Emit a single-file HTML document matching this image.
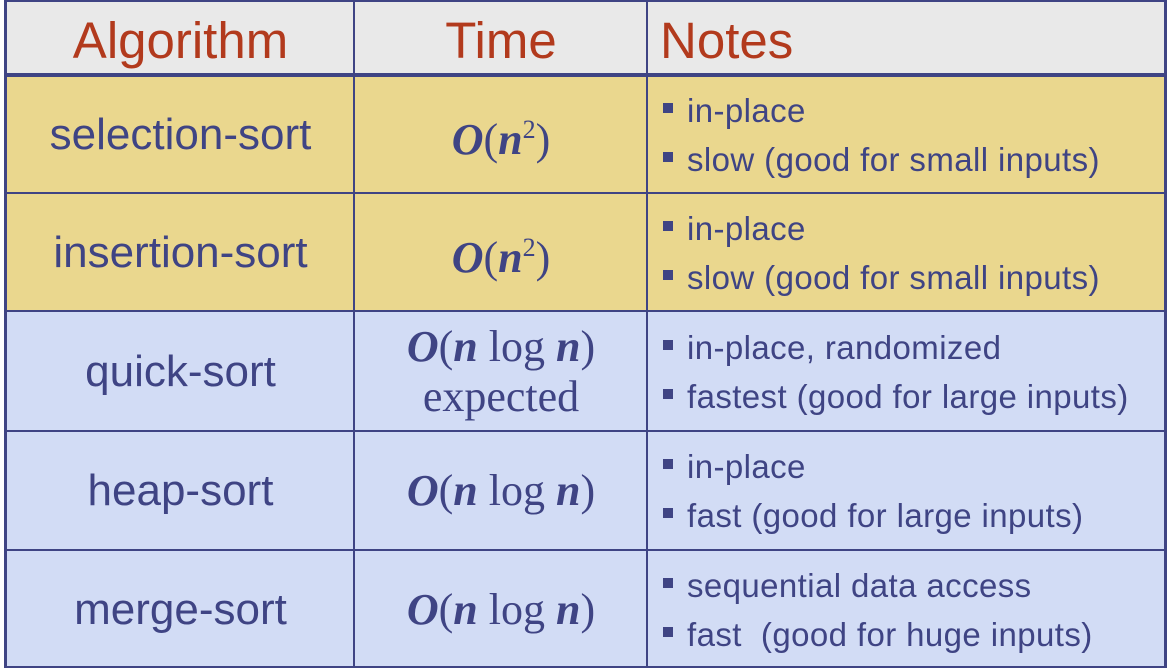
<!DOCTYPE html>
<html><head><style>
body{margin:0;width:1168px;height:668px;background:#fff;position:relative;overflow:hidden;font-family:"Liberation Sans",sans-serif}
.c{position:absolute;box-sizing:border-box;display:flex;align-items:center;justify-content:center;color:#3f4484;white-space:nowrap}
.h{background:#e9e9e9;color:#b23a1d;font-size:51px;padding-top:4px}
.y{background:#ead78e}.b{background:#d2dcf5}
.a{font-size:44px;letter-spacing:0}
.t{font-family:"Liberation Serif",serif;font-size:44px;text-align:center;line-height:50px;flex-direction:column}
.t i{font-weight:bold}
.t sup{font-size:26px;vertical-align:16px;font-weight:normal;font-style:normal}
.n{justify-content:center;padding-left:15px;font-size:33px;line-height:49px;flex-direction:column;align-items:flex-start;letter-spacing:0.4px}
.n div:before{content:"";display:inline-block;width:10px;height:10px;background:#3f4484;margin-right:14px;vertical-align:9px}
.hl{position:absolute;background:#3f4484}
</style></head><body>
<div class="c h" style="left:7px;top:2px;width:347px;height:72px">Algorithm</div>
<div class="c h" style="left:355px;top:2px;width:292px;height:72px">Time</div>
<div class="c h" style="left:648px;top:2px;width:516px;height:72px;justify-content:flex-start;padding-left:12px">Notes</div>

<div class="c y a" style="left:7px;top:77px;width:347px;height:116px">selection-sort</div>
<div class="c y t" style="left:355px;top:77px;width:292px;height:116px"><span><i>O</i>(<i>n</i><sup>2</sup>)</span></div>
<div class="c y n" style="left:648px;top:77px;width:516px;height:116px"><div>in-place</div><div>slow (good for small inputs)</div></div>

<div class="c y a" style="left:7px;top:194px;width:347px;height:117px">insertion-sort</div>
<div class="c y t" style="left:355px;top:194px;width:292px;height:117px"><span><i>O</i>(<i>n</i><sup>2</sup>)</span></div>
<div class="c y n" style="left:648px;top:194px;width:516px;height:117px"><div>in-place</div><div>slow (good for small inputs)</div></div>

<div class="c b a" style="left:7px;top:312px;width:347px;height:119px">quick-sort</div>
<div class="c b t" style="left:355px;top:312px;width:292px;height:119px"><span><i>O</i>(<i>n</i> log <i>n</i>)</span><span>expected</span></div>
<div class="c b n" style="left:648px;top:312px;width:516px;height:119px"><div>in-place, randomized</div><div>fastest (good for large inputs)</div></div>

<div class="c b a" style="left:7px;top:432px;width:347px;height:118px">heap-sort</div>
<div class="c b t" style="left:355px;top:432px;width:292px;height:118px"><span><i>O</i>(<i>n</i> log <i>n</i>)</span></div>
<div class="c b n" style="left:648px;top:432px;width:516px;height:118px"><div>in-place</div><div>fast (good for large inputs)</div></div>

<div class="c b a" style="left:7px;top:551px;width:347px;height:117px">merge-sort</div>
<div class="c b t" style="left:355px;top:551px;width:292px;height:117px"><span><i>O</i>(<i>n</i> log <i>n</i>)</span></div>
<div class="c b n" style="left:648px;top:551px;width:516px;height:117px"><div>sequential data access</div><div>fast&nbsp; (good for huge inputs)</div></div>

<div class="hl" style="left:4px;top:0;width:3px;height:668px"></div>
<div class="hl" style="left:1164px;top:0;width:3px;height:668px"></div>
<div class="hl" style="left:353px;top:0;width:2px;height:668px"></div>
<div class="hl" style="left:646px;top:0;width:2px;height:668px"></div>
<div class="hl" style="left:4px;top:0;width:1163px;height:2px"></div>
<div class="hl" style="left:4px;top:73px;width:1163px;height:4px"></div>
<div class="hl" style="left:4px;top:192px;width:1163px;height:2px"></div>
<div class="hl" style="left:4px;top:310px;width:1163px;height:2px"></div>
<div class="hl" style="left:4px;top:430px;width:1163px;height:2px"></div>
<div class="hl" style="left:4px;top:549px;width:1163px;height:2px"></div>
<div class="hl" style="left:4px;top:666px;width:1163px;height:2px"></div>
</body></html>
